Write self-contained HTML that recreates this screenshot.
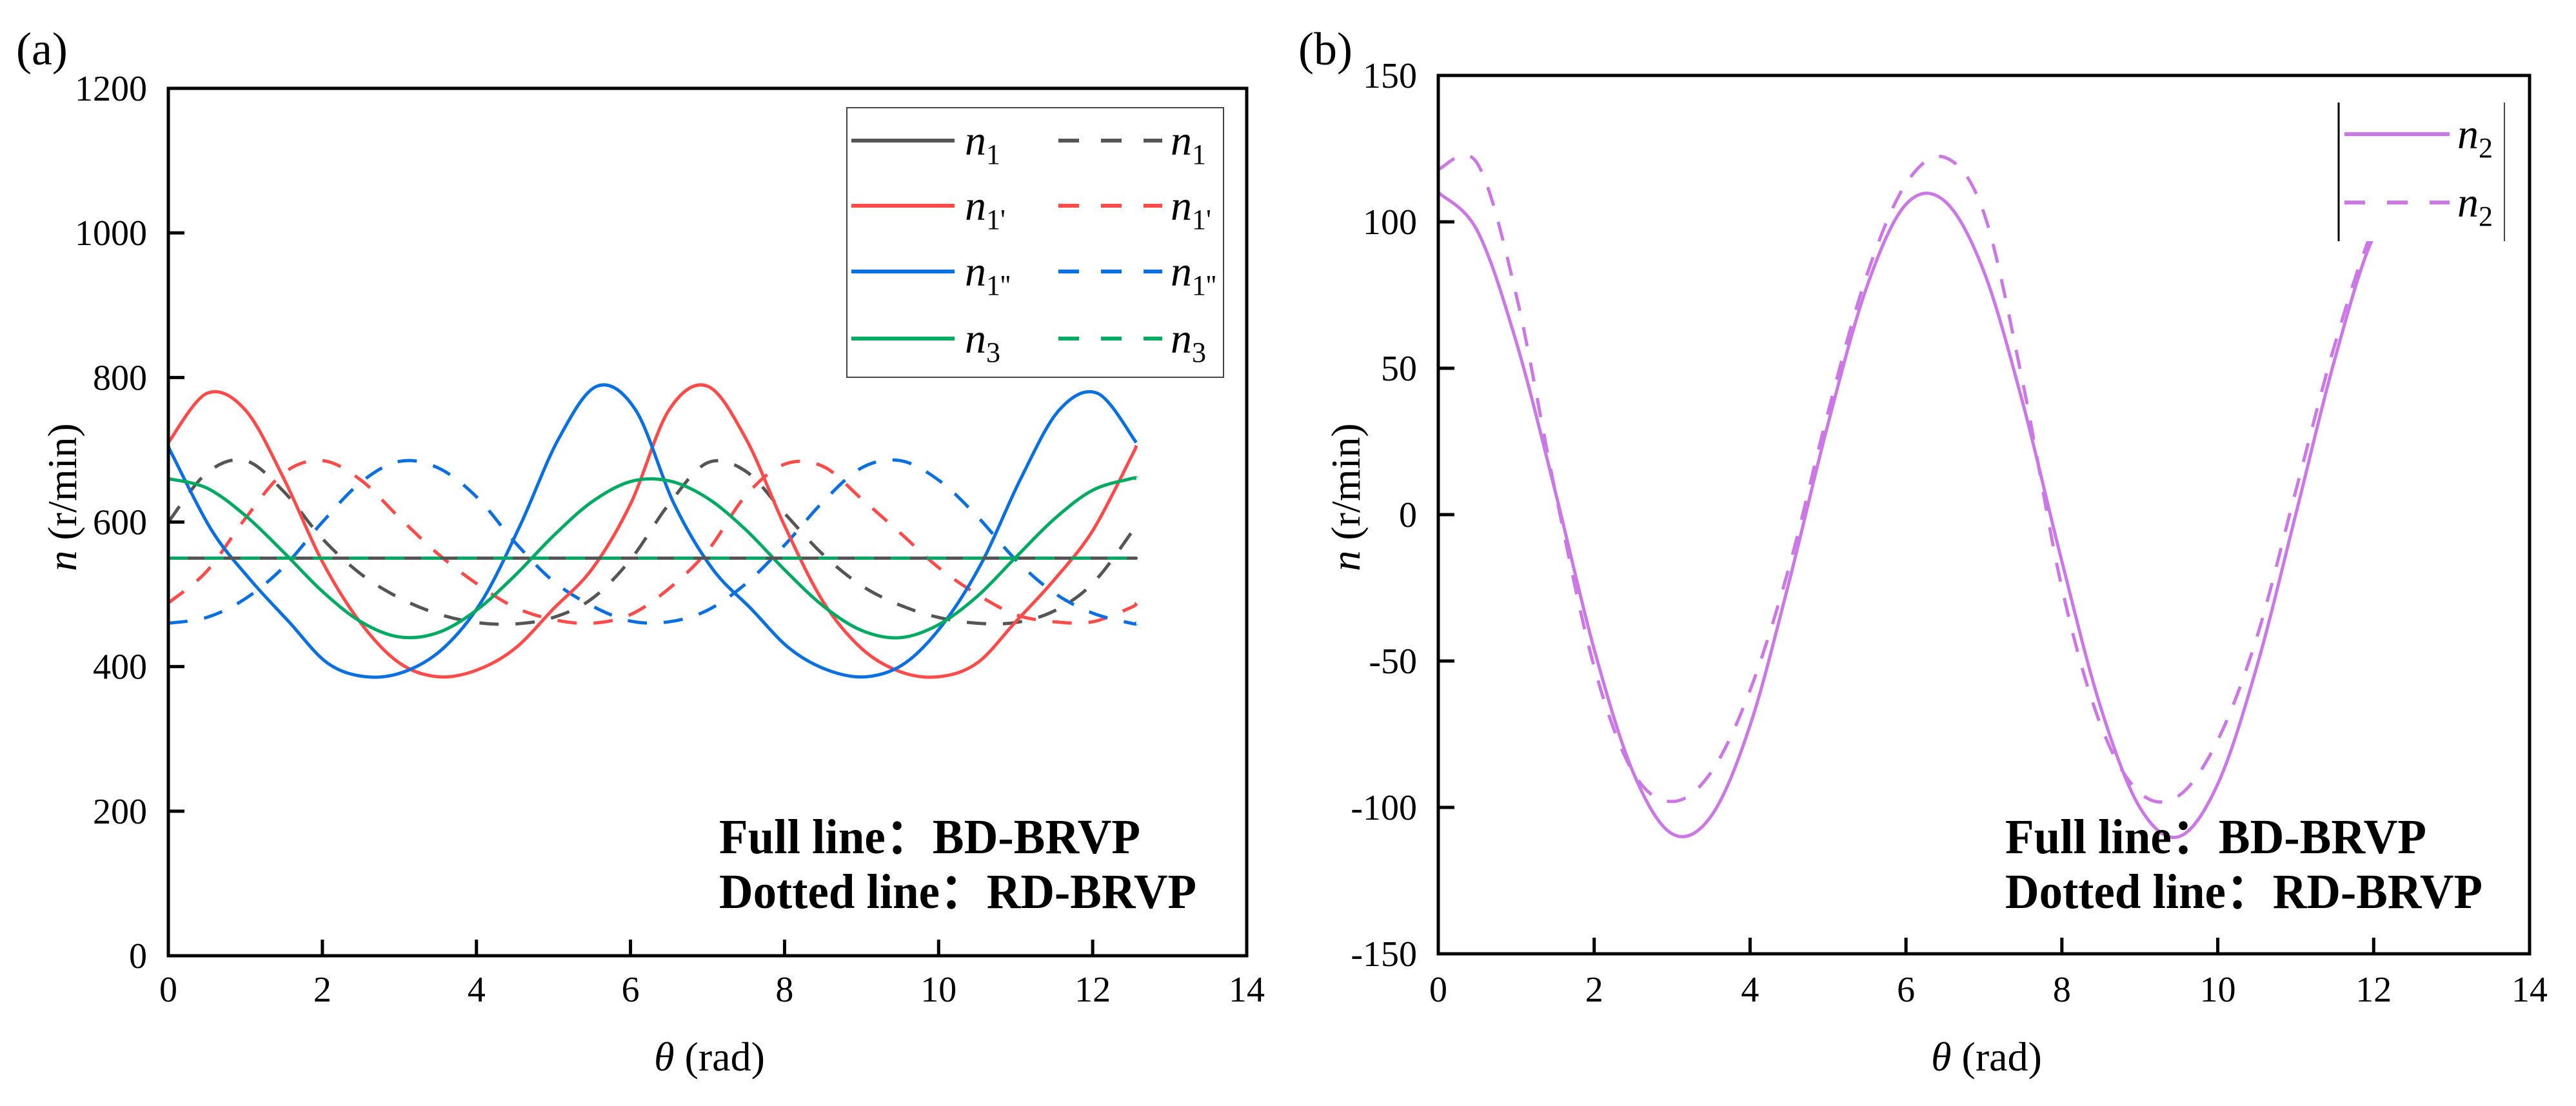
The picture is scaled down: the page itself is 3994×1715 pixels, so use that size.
<!DOCTYPE html>
<html>
<head>
<meta charset="utf-8">
<style>
html,body{margin:0;padding:0;background:#fff;}
svg{display:block;}
text{font-family:"Liberation Serif",serif;fill:#000;}
</style>
</head>
<body>
<svg id="fig" width="3994" height="1715" viewBox="0 0 3994 1715" xmlns="http://www.w3.org/2000/svg">
  <rect x="0" y="0" width="3994" height="1715" fill="#fff"/>
  <g id="panelA"></g>
  <g id="panelB"></g>
</svg>
<script>
// ---------- data ----------
const thetaA = [0,0.5,1,1.5,2,2.5,3,3.5,4,4.5,5,5.5,6,6.5,7,7.5,8,8.5,9,9.5,10,10.5,11,11.5,12,12.5,12.566];
const thetaBlue = [0,0.066,0.566,1.066,1.566,2.066,2.566,3.066,3.566,4.066,4.566,5.066,5.566,6.066,6.566,7.066,7.566,8.066,8.566,9.066,9.566,10.066,10.566,11.066,11.566,12.066,12.566];
const n1Full   = [550,550,550,550,550,550,550,550,550,550,550,550,550,550,550,550,550,550,550,550,550,550,550,550,550,550,550];
const n1pFull  = [710,778,755,660,545,460,405,386,395,425,480,535,625,755,788,715,595,490,425,393,386,405,462,520,588,690,706];
const n1ppFull = [706,690,588,520,462,405,386,393,425,490,595,715,788,755,625,535,480,425,395,386,405,460,545,660,755,778,710];
const n3Full   = [660,647,609,558,504,462,441,447,478,526,581,628,656,657,633,589,534,484,450,440,458,497,551,604,644,660,660];
const n1Dot    = [600,668,685,642,577,528,495,473,461,459,468,494,548,625,682,670,612,555,512,485,468,460,461,477,515,585,600];
const n1pDot   = [488,532,605,668,685,658,606,556,515,482,465,460,472,508,560,637,680,677,632,585,537,500,472,462,462,482,488];
const n1ppDot  = [460,468,494,538,600,655,684,675,635,572,518,484,463,462,478,515,568,628,675,685,658,608,548,502,474,460,460];
const n3Dot    = [550,550,550,550,550,550,550,550,550,550,550,550,550,550,550,550,550,550,550,550,550,550,550,550,550,550,550];
const xTicksA = [0,2,4,6,8,10,12,14];
const yTicksA = [0,200,400,600,800,1000,1200];

const thetaB = [0,0.5,1,1.5,2,2.5,3,3.5,4,4.5,5,5.5,6,6.5,7,7.5,8,8.5,9,9.5,10,10.5,11,11.5,12,12.5,12.566];
const n2Full = [110,97,59,8,-46,-88,-109,-103,-72,-23,31,78,106,107,83,38,-16,-66,-100,-110,-92,-52,0,53,95,110,110];
const n2Dot  = [118,120,75,8,-52,-88,-98,-88,-60,-18,35,82,113,122,103,45,-25,-72,-95,-96,-77,-42,8,58,98,120,118];
const xTicksB = [0,2,4,6,8,10,12,14];
const yTicksB = [-150,-100,-50,0,50,100,150];

const NS = "http://www.w3.org/2000/svg";
function mk(tag, attrs, parent){
  const e = document.createElementNS(NS, tag);
  for (const k in attrs) e.setAttribute(k, attrs[k]);
  if (parent) parent.appendChild(e);
  return e;
}
function smoothPath(pts){
  let d = "M" + pts[0][0].toFixed(1) + "," + pts[0][1].toFixed(1);
  for (let i=0;i<pts.length-1;i++){
    const p0 = pts[Math.max(0,i-1)], p1 = pts[i], p2 = pts[i+1], p3 = pts[Math.min(pts.length-1,i+2)];
    const c1x = p1[0]+(p2[0]-p0[0])/6, c1y = p1[1]+(p2[1]-p0[1])/6;
    const c2x = p2[0]-(p3[0]-p1[0])/6, c2y = p2[1]-(p3[1]-p1[1])/6;
    d += " C"+c1x.toFixed(1)+","+c1y.toFixed(1)+" "+c2x.toFixed(1)+","+c2y.toFixed(1)+" "+p2[0].toFixed(1)+","+p2[1].toFixed(1);
  }
  return d;
}

function drawAxes(g, L, R, T, B, xTicks, yTicks, xs, ys, xLabelX, yLabelX){
  xTicks.forEach(v=>{
    const x = xs(v);
    const t = mk('line',{x1:x,y1:B,x2:x,y2:B-25,stroke:'#000','stroke-width':5},g);
    
    
    const lb = mk('text',{x:x,y:1553,'font-size':56,'text-anchor':'middle'},g);
    lb.textContent = v;
    
    
  });
  yTicks.forEach(v=>{
    const y = ys(v);
    const t = mk('line',{x1:L,y1:y,x2:L+25,y2:y,stroke:'#000','stroke-width':5},g);
    
    
    const lb = mk('text',{x:L-33,y:y+19,'font-size':56,'text-anchor':'end'},g);
    lb.textContent = v;
    
    
  });
  const fr = mk('rect',{x:L,y:T,width:R-L,height:B-T,fill:'none',stroke:'#000','stroke-width':5},g);
  
  
  const xt = mk('text',{x:xLabelX,y:1660,'font-size':64,'text-anchor':'middle'},g);
  xt.innerHTML = '<tspan font-style="italic">θ</tspan> (rad)';
  
  
  const yt = mk('text',{x:0,y:0,'font-size':64,'text-anchor':'middle',transform:'translate('+(yLabelX+22)+',771) rotate(-90)'},g);
  yt.innerHTML = '<tspan font-style="italic">n</tspan> (r/min)';
  
  
}

function series(g, xs, ys, xsArr, ysArr, color, dashed, name){
  const pts = xsArr.map((t,i)=>[xs(t), ys(ysArr[i])]);
  const p = mk('path',{d:smoothPath(pts),fill:'none',stroke:color,'stroke-width':5,'stroke-linejoin':'round'},g);
  if (dashed) p.setAttribute('stroke-dasharray','30,26');
  
  
}

function annotation(g, x){
  const a1 = mk('text',{x:x,y:1323,'font-size':76,'font-weight':'bold',textLength:653,lengthAdjust:'spacingAndGlyphs'},g);
  a1.textContent = 'Full line：BD-BRVP';
  
  
  const a2 = mk('text',{x:x,y:1408,'font-size':76,'font-weight':'bold',textLength:740,lengthAdjust:'spacingAndGlyphs'},g);
  a2.textContent = 'Dotted line：RD-BRVP';
  
  
}

function legendLabel(g, x, y, sub){
  const t = mk('text',{x:x,y:y,'font-size':66},g);
  t.innerHTML = '<tspan font-style="italic">n</tspan><tspan font-size="44" dy="14">'+sub+'</tspan>';
  
  
}

// ---------- panel A ----------
(function(){
  const g = document.getElementById('panelA');
  const L=261, R=1933, T=137, B=1482;
  const xs = v => L + (v-0)/(14-0)*(R-L);
  const ys = v => B - (v-0)/(1200-0)*(B-T);
  const lab = mk('text',{x:25,y:100,'font-size':72},g);
  lab.textContent='(a)';
  
  

  const cg = mk('g',{},g);
  
  
  series(cg,xs,ys,thetaA,n1pDot,'#ff4a4a',true,'n1p-rd-line');
  series(cg,xs,ys,thetaA,n1ppDot,'#0a6fe0',true,'n1pp-rd-line');
  series(cg,xs,ys,thetaA,n1Dot,'#555555',true,'n1-rd-line');
  series(cg,xs,ys,thetaA,n1pFull,'#ff4a4a',false,'n1p-bd-line');
  series(cg,xs,ys,thetaBlue,n1ppFull,'#0a6fe0',false,'n1pp-bd-line');
  series(cg,xs,ys,thetaA,n3Full,'#00aa63',false,'n3-bd-line');
  series(cg,xs,ys,thetaA,n1Full,'#555555',false,'n1-bd-line');
  series(cg,xs,ys,thetaA,n3Dot,'#00aa63',true,'n3-rd-line');

  drawAxes(g,L,R,T,B,xTicksA,yTicksA,xs,ys,1100,96);
  annotation(g,1115);

  const lg = mk('g',{},g);
  
  
  const box = mk('rect',{x:1313,y:167,width:584,height:418,fill:'#fff',stroke:'#444','stroke-width':2},lg);
  
  
  const rows = [[218,'#555555','1'],[319,'#ff4a4a','1\''],[421,'#0a6fe0','1\'\''],[525,'#00aa63','3']];
  rows.forEach(r=>{
    const s = mk('line',{x1:1320,y1:r[0],x2:1480,y2:r[0],stroke:r[1],'stroke-width':6},lg);
    
    
    legendLabel(lg,1496,r[0]+22,r[2]);
    const d = mk('line',{x1:1641,y1:r[0],x2:1802,y2:r[0],stroke:r[1],'stroke-width':6,'stroke-dasharray':'32,34'},lg);
    
    
    legendLabel(lg,1815,r[0]+22,r[2]);
  });
})();

// ---------- panel B ----------
(function(){
  const g = document.getElementById('panelB');
  const L=2230, R=3922, T=117, B=1479;
  const xs = v => L + (v-0)/(14-0)*(R-L);
  const ys = v => B - (v-(-150))/(150-(-150))*(B-T);
  const lab = mk('text',{x:2013,y:100,'font-size':72},g);
  lab.textContent='(b)';
  
  

  const cg = mk('g',{},g);
  
  
  series(cg,xs,ys,thetaB,n2Dot,'#cc77e6',true,'n2-rd-line');
  series(cg,xs,ys,thetaB,n2Full,'#cc77e6',false,'n2-bd-line');

  const lg = mk('g',{},g);
  
  
  const box = mk('rect',{x:3626,y:159,width:257,height:215,fill:'#fff',stroke:'none'},lg);
  
  
  const bl = mk('line',{x1:3626,y1:159,x2:3626,y2:374,stroke:'#000','stroke-width':3},lg);
  
  
  const br = mk('line',{x1:3883,y1:159,x2:3883,y2:374,stroke:'#444','stroke-width':2},lg);
  
  
  const s = mk('line',{x1:3635,y1:208,x2:3798,y2:208,stroke:'#cc77e6','stroke-width':6},lg);
  
  
  legendLabel(lg,3810,230,'2');
  const d = mk('line',{x1:3635,y1:314,x2:3798,y2:314,stroke:'#cc77e6','stroke-width':6,'stroke-dasharray':'32,34'},lg);
  
  
  legendLabel(lg,3810,336,'2');

  drawAxes(g,L,R,T,B,xTicksB,yTicksB,xs,ys,3080,2086);
  annotation(g,3109);
})();
</script>
</body>
</html>
